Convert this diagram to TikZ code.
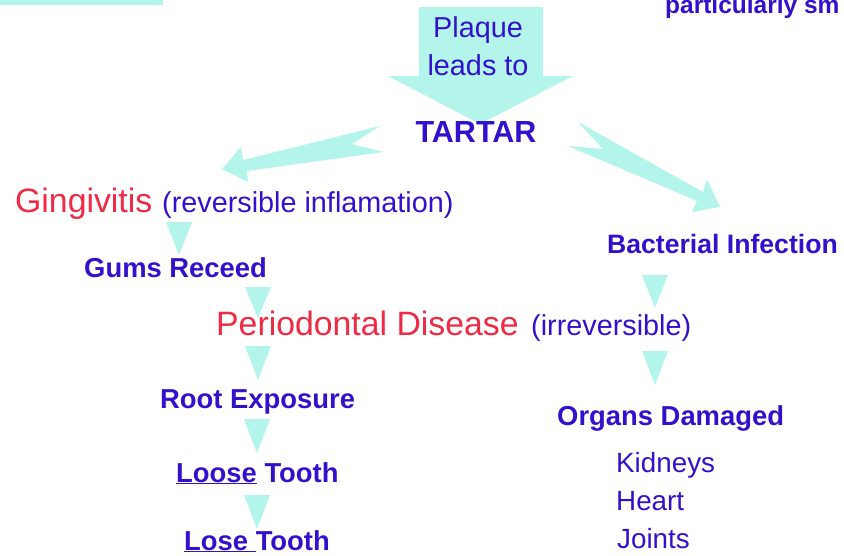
\documentclass[tikz,border=0pt]{standalone}
\usepackage{fontspec}
\setmainfont{Liberation Sans}
\usepackage{tikz}
\definecolor{plaquecyan}{HTML}{B3F5EA}
\definecolor{stageblue}{HTML}{3311CC}
\definecolor{diseasered}{HTML}{EE2A45}
\newcommand{\BodyFont}{\fontsize{28.8}{34}\selectfont}
\newcommand{\StepFont}{\fontsize{27.4}{32}\selectfont\bfseries}
\newcommand{\DiseaseFont}{\fontsize{33.8}{40}\selectfont}
\newcommand{\DownTip}[3]{%
  \fill[plaquecyan] ({#1-13},#2) -- ({#1+13},#2) -- (#1,#3) -- cycle;
}

\begin{document}
\begin{tikzpicture}[x=1pt,y=-1pt,text=stageblue,
  blockarrow/.style={fill=plaquecyan,draw=none},
  steplabel/.style={anchor=base west,inner sep=0pt,font=\StepFont},
  notelabel/.style={anchor=base west,inner sep=0pt,font=\BodyFont},
  diseaselabel/.style={anchor=base west,inner sep=0pt,font=\DiseaseFont,text=diseasered}]
  \useasboundingbox (0,0) rectangle (844,555);
  \fill[plaquecyan] (0,0) rectangle (163,5);
  % block arrows
  \path[blockarrow] (419,7) -- (543,7) -- (543,76) -- (573,76) -- (480,124)
    -- (388,76) -- (419,76) -- cycle;
  \path[blockarrow] (380,126) -- (243,160) -- (241,147) -- (222,169) -- (248,182)
    -- (247,171) -- (384,152) -- (352,144) -- cycle;
  \path[blockarrow] (578,122) -- (703,192) -- (707,179) -- (720,207) -- (692,212)
    -- (697,201) -- (568,146) -- (603,149) -- cycle;
  \DownTip{179}{222}{255}
  \DownTip{258}{287}{318}
  \DownTip{258}{346}{380}
  \DownTip{257}{419}{453}
  \DownTip{257}{495}{529}
  \DownTip{655}{275}{308}
  \DownTip{655}{351}{385}
  % labels
  \node[anchor=base,inner sep=0pt,font=\BodyFont] (plaque) at (478,37) {Plaque};
  \node[anchor=base,inner sep=0pt,font=\BodyFont] (leads) at (478,75) {leads to};
  \node[anchor=base,inner sep=0pt,font=\fontsize{30.5}{36}\selectfont\bfseries] (tartar) at (476,142) {TARTAR};
  \node[anchor=base west,inner sep=0pt,font=\fontsize{24.5}{29}\selectfont\bfseries] (small) at (665,13) {particularly sm};
  \node[diseaselabel] (gingivitis) at (15,212) {Gingivitis};
  \node[notelabel] (reversible) at (162,212) {(reversible inflamation)};
  \node[steplabel] (gums) at (84,277) {Gums Receed};
  \node[diseaselabel] (periodontal) at (216,335) {Periodontal Disease};
  \node[notelabel] (irreversible) at (531,335) {(irreversible)};
  \node[steplabel,font=\fontsize{26.6}{32}\selectfont\bfseries] (bacterial) at (607,253) {Bacterial Infection};
  \node[steplabel] (root) at (160,408) {Root Exposure};
  \node[steplabel] (loose) at (176,482) {\underline{Loose} Tooth};
  \node[steplabel] (lose) at (184,550) {\underline{Lose\ }Tooth};
  \node[steplabel] (organs) at (557,425) {Organs Damaged};
  \node[notelabel,font=\fontsize{27.8}{33}\selectfont] (kidneys) at (616,472) {Kidneys};
  \node[notelabel,font=\fontsize{27.8}{33}\selectfont] (heart) at (616,510) {Heart};
  \node[notelabel,font=\fontsize{27.8}{33}\selectfont] (joints) at (617,548) {Joints};
\end{tikzpicture}
\end{document}
